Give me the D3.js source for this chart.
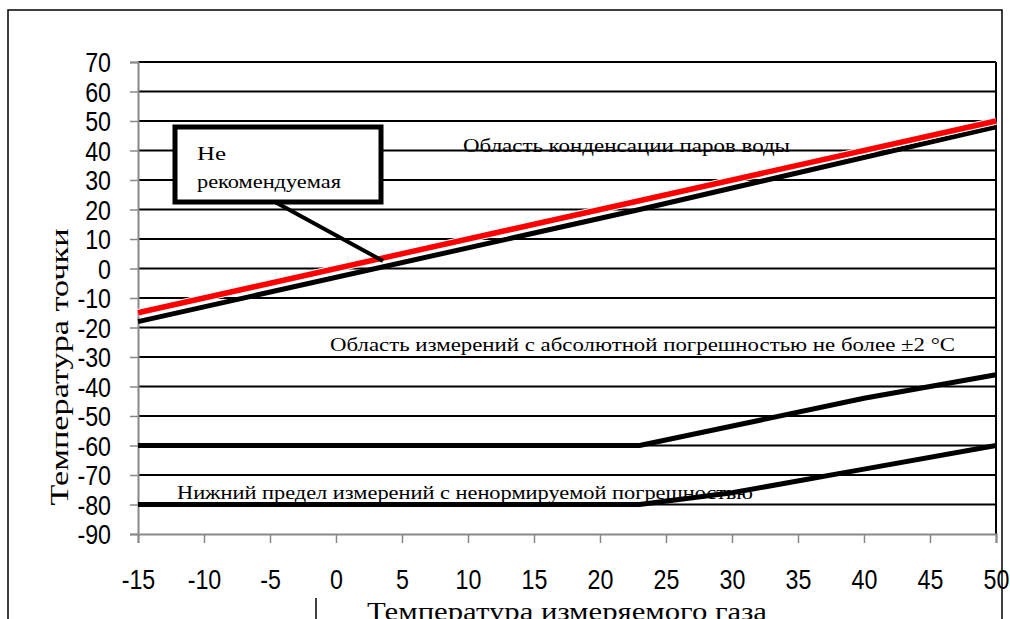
<!DOCTYPE html>
<meta charset="utf-8">
<style>
body { margin: 0; background: #fff; }
.tick text { font-family: "Liberation Sans", Arial, sans-serif; font-size: 27px; fill: #000; }
.note { font-family: "Liberation Serif", "Times New Roman", serif; font-size: 19px; fill: #000; }
.title { font-family: "Liberation Serif", "Times New Roman", serif; font-size: 25px; fill: #000; }
</style>

<svg width="1010" height="619"></svg>

<script src="https://d3js.org/d3.v7.min.js"></script>
<script>

var svg = d3.select("svg");

// данные графика
var xTicks = [-15, -10, -5, 0, 5, 10, 15, 20, 25, 30, 35, 40, 45, 50];
var yTicks = [70, 60, 50, 40, 30, 20, 10, 0, -10, -20, -30, -40, -50, -60, -70, -80, -90];

var redLine = [[-15, -15], [50, 50]];
var upperBlack = [[-15, -18], [23, 20], [50, 48]];
var midBlack = [[-15, -60], [23, -60], [40, -44], [50, -36]];
var lowBlack = [[-15, -80], [23, -80], [30, -76], [40, -68], [50, -60]];

var x = d3.scaleLinear().domain([-15, 50]).range([138, 996]);
var y = d3.scaleLinear().domain([-90, 70]).range([534, 62]);

// рамка
svg.append("rect")
    .attr("x", 8).attr("y", 10).attr("width", 994).attr("height", 640)
    .attr("fill", "none").attr("stroke", "#000").attr("stroke-width", 1.5);
svg.append("line")
    .attr("x1", 316).attr("x2", 316).attr("y1", 598).attr("y2", 619)
    .attr("stroke", "#000").attr("stroke-width", 1.5);

// сетка
svg.append("g").selectAll("line")
    .data(yTicks.filter(d => d !== -90))
  .enter().append("line")
    .attr("x1", x(-15)).attr("x2", x(50))
    .attr("y1", d => y(d)).attr("y2", d => y(d))
    .attr("stroke", "#000").attr("stroke-width", 1.8);

svg.append("line")
    .attr("x1", x(50)).attr("x2", x(50)).attr("y1", y(70)).attr("y2", y(-90))
    .attr("stroke", "#000").attr("stroke-width", 2);

// оси
var fmt = d => String(d);
var yAxis = svg.append("g")
    .attr("transform", "translate(" + x(-15) + ",0)")
    .call(d3.axisLeft(y).tickValues(yTicks).tickSize(8).tickPadding(19).tickFormat(fmt));
var xAxis = svg.append("g")
    .attr("transform", "translate(0," + y(-90) + ")")
    .call(d3.axisBottom(x).tickValues(xTicks).tickSize(9).tickPadding(27).tickFormat(fmt));

[yAxis, xAxis].forEach(function(g) {
  g.select(".domain").attr("stroke", "#888").attr("stroke-width", 2);
  g.selectAll(".tick line").attr("stroke", "#888").attr("stroke-width", 1.5);
  // узкое начертание цифр
  g.selectAll(".tick text").each(function() {
    var w = this.getComputedTextLength();
    d3.select(this).attr("textLength", w * 0.86).attr("lengthAdjust", "spacingAndGlyphs");
  });
});
yAxis.selectAll(".tick text").attr("dy", "0.36em");

// линии
var line = d3.line().x(d => x(d[0])).y(d => y(d[1]));

[upperBlack, midBlack, lowBlack].forEach(function(d) {
  svg.append("path").datum(d)
      .attr("d", line).attr("fill", "none")
      .attr("stroke", "#000").attr("stroke-width", 5);
});

svg.append("path").datum(redLine)
    .attr("d", line).attr("fill", "none")
    .attr("stroke", "#fff").attr("stroke-width", 7.5);
svg.append("path").datum(redLine)
    .attr("d", line).attr("fill", "none")
    .attr("stroke", "#f00").attr("stroke-width", 5.5);

// подписи
function note(tx, ty, str, len) {
  svg.append("text").attr("class", "note")
      .attr("x", tx).attr("y", ty)
      .attr("textLength", len).attr("lengthAdjust", "spacingAndGlyphs")
      .text(str);
}
note(463, 152, "Область конденсации паров воды", 327);
note(330, 351, "Область измерений с абсолютной погрешностью не более ±2 °С", 625);
note(177, 499, "Нижний предел измерений с ненормируемой погрешностью", 576);

// выноска
svg.append("line")
    .attr("x1", 275).attr("y1", 202).attr("x2", 383).attr("y2", 261)
    .attr("stroke", "#000").attr("stroke-width", 4);
svg.append("rect")
    .attr("x", 175).attr("y", 127).attr("width", 206).attr("height", 75)
    .attr("fill", "#fff").attr("stroke", "#000").attr("stroke-width", 5);
note(197, 160, "Не", 29);
note(197, 188, "рекомендуемая", 144);

// названия осей
svg.append("text").attr("class", "title")
    .attr("transform", "translate(68,367) rotate(-90)")
    .attr("text-anchor", "middle")
    .attr("textLength", 277).attr("lengthAdjust", "spacingAndGlyphs")
    .text("Температура точки");
svg.append("text").attr("class", "title")
    .attr("x", 567).attr("y", 620)
    .attr("text-anchor", "middle")
    .attr("textLength", 400).attr("lengthAdjust", "spacingAndGlyphs")
    .text("Температура измеряемого газа");

</script>
